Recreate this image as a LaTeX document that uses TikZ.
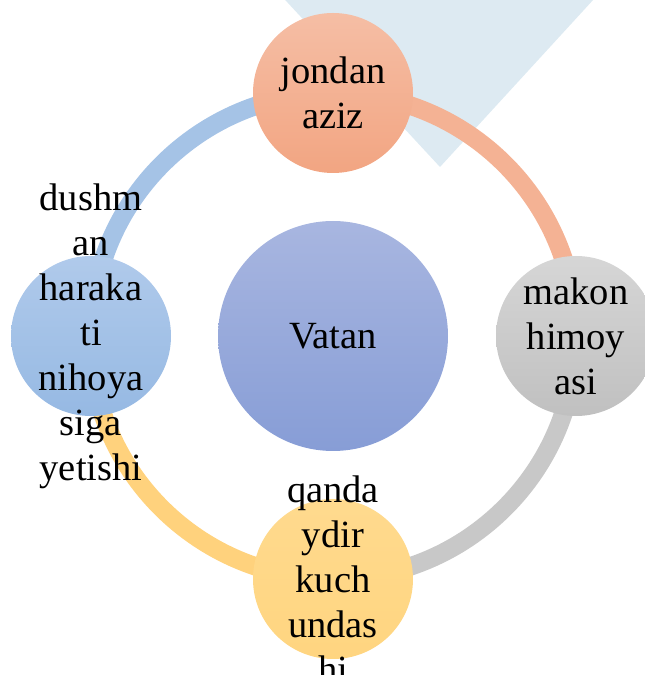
\documentclass[tikz,border=0pt]{standalone}
\usepackage{fontspec}
\setmainfont{Liberation Serif}
\usetikzlibrary{backgrounds}

\definecolor{bgblue}{RGB}{221,234,242}
\definecolor{vatantop}{RGB}{168,182,224}
\definecolor{vatanbot}{RGB}{135,157,214}
\definecolor{jondantop}{RGB}{245,190,165}
\definecolor{jondanbot}{RGB}{242,165,130}
\definecolor{makontop}{RGB}{214,214,214}
\definecolor{makonbot}{RGB}{192,192,192}
\definecolor{qandatop}{RGB}{255,218,142}
\definecolor{qandabot}{RGB}{255,213,128}
\definecolor{dushmantop}{RGB}{176,202,235}
\definecolor{dushmanbot}{RGB}{150,185,227}
\definecolor{salmonarc}{RGB}{244,178,148}
\definecolor{grayarc}{RGB}{200,200,200}
\definecolor{yellowarc}{RGB}{255,210,125}
\definecolor{bluearc}{RGB}{165,195,230}

\begin{document}
\begin{tikzpicture}[x=1pt,y=1pt,
  bubble/.style={circle,minimum size=160pt,inner sep=0pt},
  words/.style={align=center,inner sep=0pt,font=\fontsize{38.5}{45}\selectfont},
  ring/.style={line width=18.5pt}]
\useasboundingbox (0,0) rectangle (645,675);

%% Middle
\node[bubble,minimum size=230pt,shade,top color=vatantop,bottom color=vatanbot] (vatan) at (333,339) {};
\node[words] (vatant) at (vatan) {Vatan};

% JONDAN AZIZ (top)
\node[bubble,shade,top color=jondantop,bottom color=jondanbot] (jondan) at (333,582) {};
\node[words] (jondant) at (jondan) {jondan\\aziz};

% MAKON HIMOYASI (right)
\node[bubble,shade,top color=makontop,bottom color=makonbot] (makon) at (576,339) {};
\node[words] (makont) at (makon) {makon\\himoy\\asi};

% QANDAYDIR (bottom)
\node[bubble,shade,top color=qandatop,bottom color=qandabot] (qanda) at (333,96) {};
\node[words] (qandat) at (qanda) {qanda\\ydir\\kuch\\undas\\hi};

% DUSHMAN (left)
\node[bubble,shade,top color=dushmantop,bottom color=dushmanbot] (dushman) at (91,339) {};
\node[words] (dushmant) at (dushman) {dushm\\an\\haraka\\ti\\nihoya\\siga\\yetishi};

%% Ring behind the circles
\begin{pgfonlayer}{background}
\fill[bgblue] (262,700) -- (440,508) -- (616,700) -- cycle;
\draw[ring,salmonarc] (jondan.center) arc[start angle=90,end angle=0,radius=243pt];
\draw[ring,grayarc] (makon.center) arc[start angle=0,end angle=-90,radius=243pt];
\draw[ring,yellowarc] (qanda.center) arc[start angle=270,end angle=180,radius=243pt];
\draw[ring,bluearc] (dushman.center) arc[start angle=180,end angle=90,radius=243pt];
\end{pgfonlayer}
\end{tikzpicture}
\end{document}
